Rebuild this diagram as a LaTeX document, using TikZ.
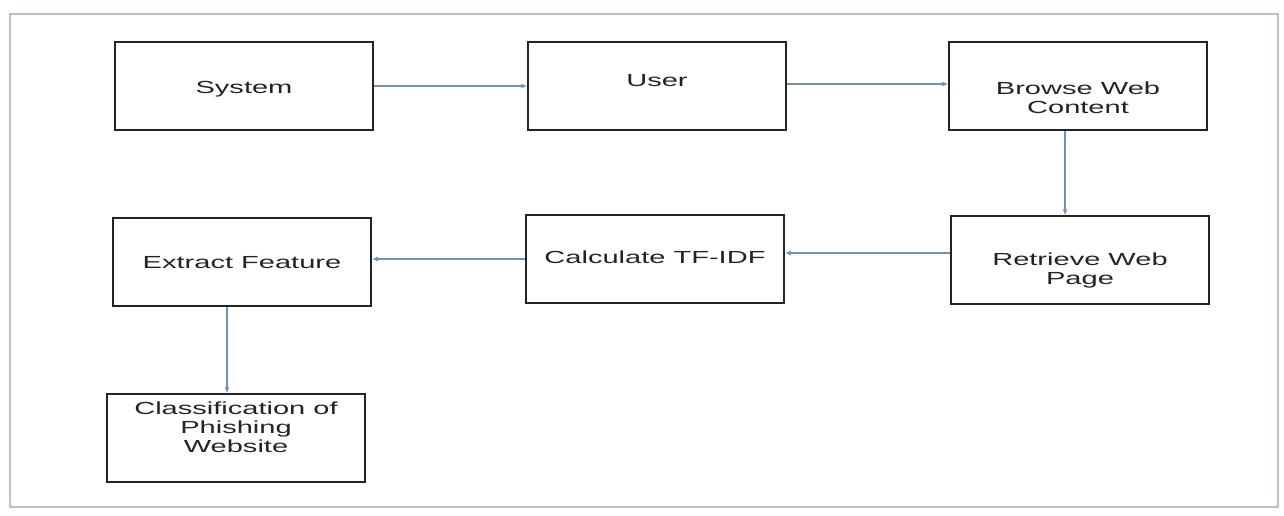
\documentclass[tikz,border=0pt]{standalone}
\usepackage{fontspec}
\setmainfont{Liberation Sans}[FakeStretch=1.66]
\usetikzlibrary{arrows.meta}

\definecolor{framegray}{RGB}{185,194,203}
\definecolor{arrowblue}{RGB}{112,146,184}
\definecolor{boxblack}{RGB}{35,35,35}

\newcommand{\boxtext}[2]{\raisebox{#1}[0pt][0pt]{\begin{tabular}{@{}c@{}}#2\end{tabular}}}

\begin{document}
\begin{tikzpicture}[x=1pt, y=-1pt, >={Latex[length=6pt,width=5pt]}]
    \useasboundingbox (0, 0) rectangle (1284, 516);
    \draw[framegray, line width=1.5pt] (10, 14) rectangle (1278, 507);

    \begin{scope}[every node/.style={draw=boxblack, line width=1.5pt, rectangle, minimum width=258pt, minimum height=88pt, inner sep=0pt, text=boxblack, font=\fontsize{17.5}{19}\selectfont}]
        \node (system) at (244, 86) {\boxtext{-8pt}{System}};
        \node (user) at (657, 86) {\boxtext{-1pt}{User}};
        \node (browse) at (1078, 86) {\boxtext{-19pt}{Browse Web\\Content}};

        \node (retrieve) at (1080, 260) {\boxtext{-15.5pt}{Retrieve Web\\Page}};
        \node (calc) at (655, 259) {\boxtext{-5pt}{Calculate TF-IDF}};
        \node (extract) at (242, 262) {\boxtext{-7pt}{Extract Feature}};

        \node (classify) at (236, 438) {\boxtext{4pt}{Classification of\\Phishing\\Website}};
    \end{scope}

    \begin{scope}[every edge/.style={draw=arrowblue, line width=1.2pt}]
        \path[->] (system) edge (user);
        \path[->] ([yshift=2pt]user.east) edge ([yshift=2pt]browse.west);
        \path[->] ([xshift=-13pt]browse.south) edge ([xshift=-13pt]browse.south |- retrieve.north);
        \path[->] ([yshift=7pt]retrieve.west) edge ([yshift=7pt]retrieve.west -| calc.east);
        \path[->] (calc.west) edge (calc.west -| extract.east);
        \path[->] ([xshift=-15pt]extract.south) edge ([xshift=-15pt]extract.south |- classify.north);
    \end{scope}
\end{tikzpicture}
\end{document}
